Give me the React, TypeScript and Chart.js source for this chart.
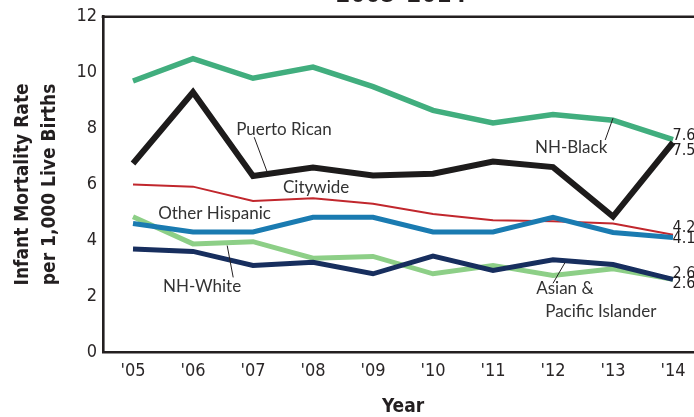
import React, { useEffect, useRef } from "react";
import { Chart, registerables } from "chart.js";

Chart.register(...registerables);

const years = ["'05", "'06", "'07", "'08", "'09", "'10", "'11", "'12", "'13", "'14"];
const nhBlack = [9.7, 10.5, 9.8, 10.2, 9.5, 8.65, 8.2, 8.5, 8.3, 7.6];
const puertoRican = [6.75, 9.3, 6.3, 6.6, 6.32, 6.38, 6.82, 6.62, 4.85, 7.5];
const citywide = [6.0, 5.92, 5.41, 5.5, 5.31, 4.94, 4.72, 4.68, 4.6, 4.2];
const otherHispanic = [4.6, 4.3, 4.3, 4.82, 4.82, 4.3, 4.3, 4.82, 4.28, 4.1];
const asianPI = [4.84, 3.87, 3.95, 3.36, 3.42, 2.8, 3.1, 2.74, 2.98, 2.6];
const nhWhite = [3.69, 3.6, 3.1, 3.21, 2.8, 3.43, 2.92, 3.3, 3.13, 2.6];
const yTicks = [0, 2, 4, 6, 8, 10, 12];

// annotation labels in data units: [text, categoryIndex, value]
const seriesLabels: [string, number, number][] = [
  ["Puerto Rican", 1.72, 7.98],
  ["Citywide", 2.5, 5.88],
  ["Other Hispanic", 0.42, 4.96],
  ["NH-White", 0.5, 2.35],
  ["NH-Black", 6.7, 7.31],
  ["Asian &", 6.72, 2.28],
  ["Pacific Islander", 6.87, 1.46],
];
// leader lines: [x1, y1, x2, y2] in data units
const leaders: [number, number, number, number][] = [
  [2.02, 7.69, 2.23, 6.48],
  [1.57, 3.81, 1.67, 2.67],
  [8.0, 8.37, 7.87, 7.59],
  [7.2, 3.2, 7.0, 2.46],
];
// end-value labels: [text, valuePosition]
const endLabels: [string, number][] = [
  ["7.6", 7.75],
  ["7.5", 7.2],
  ["4.2", 4.46],
  ["4.1", 4.04],
  ["2.6", 2.8],
  ["2.6", 2.44],
];
const titleText = "2005\u20132014";

const NARROW = "'Liberation Sans Narrow', 'DejaVu Sans Condensed', 'Arial Narrow', sans-serif";
const LABEL = "Lato, 'Open Sans', sans-serif";

export default function App() {
  const ref = useRef<HTMLCanvasElement>(null);
  useEffect(() => {
    const canvas = ref.current!;
    const annotate = {
      id: "annotate",
      afterDatasetsDraw(chart: any) {
        const { ctx, chartArea, scales } = chart;
        const xs = scales.x;
        const ys = scales.y;
        ctx.save();
        // top frame line
        ctx.strokeStyle = "#231f20";
        ctx.lineWidth = 2.6;
        ctx.beginPath();
        ctx.moveTo(chartArea.left - 1.3, chartArea.top);
        ctx.lineTo(chartArea.right + 10, chartArea.top);
        ctx.stroke();
        // leaders
        ctx.lineWidth = 1;
        ctx.strokeStyle = "#231f20";
        leaders.forEach(([a, b, c, d]) => {
          ctx.beginPath();
          ctx.moveTo(xs.getPixelForValue(a), ys.getPixelForValue(b));
          ctx.lineTo(xs.getPixelForValue(c), ys.getPixelForValue(d));
          ctx.stroke();
        });
        ctx.fillStyle = "#333";
        ctx.textBaseline = "middle";
        ctx.textAlign = "left";
        ctx.font = `17px ${LABEL}`;
        seriesLabels.forEach(([t, a, b]) => {
          ctx.fillText(t, xs.getPixelForValue(a), ys.getPixelForValue(b));
        });
        ctx.font = `16px ${NARROW}`;
        ctx.fillStyle = "#231f20";
        endLabels.forEach(([t, v]) => {
          ctx.fillText(t, xs.getPixelForValue(9) - 0.5, ys.getPixelForValue(v));
        });
        // cut-off title
        ctx.font = `bold 24px ${NARROW}`;
        ctx.textAlign = "center";
        ctx.textBaseline = "alphabetic";
        ctx.fillStyle = "#231f20";
        ctx.fillText(titleText, 401, 2);
        ctx.restore();
      },
    };
    const mk = (label: string, data: number[], color: string, width: number) => ({
      label,
      data,
      borderColor: color,
      backgroundColor: color,
      borderWidth: width,
      pointRadius: 0,
      tension: 0,
      fill: false,
      borderJoinStyle: "miter" as const,
    });
    const chart = new Chart(canvas, {
      type: "line",
      data: {
        labels: years,
        datasets: [
          mk("Puerto Rican", puertoRican, "#1d1b1b", 6),
          mk("Other Hispanic", otherHispanic, "#1a7bb1", 5),
          mk("NH-White", nhWhite, "#172e5e", 5),
          mk("Asian & Pacific Islander", asianPI, "#8dcf87", 5),
          mk("Citywide", citywide, "#c1272d", 2),
          mk("NH-Black", nhBlack, "#41ae7e", 5.5),
        ],
      },
      options: {
        responsive: false,
        animation: false,
        devicePixelRatio: 1,
        layout: { padding: { top: 15, right: 7, left: 0, bottom: 0 } },
        plugins: { legend: { display: false }, tooltip: { enabled: false }, title: { display: false } },
        scales: {
          x: {
            type: "category",
            offset: true,
            grid: { display: false, drawTicks: false },
            border: { display: true, color: "#231f20", width: 2.6 },
            ticks: { color: "#2a2627", font: { family: NARROW, size: 18 }, padding: 9, maxRotation: 0 },
            title: {
              display: true,
              text: "Year",
              color: "#231f20",
              font: { family: NARROW, size: 19, weight: "bold", lineHeight: 1 },
              padding: { top: 0, bottom: 0 },
            },
            afterFit: (s: any) => {
              s.height = 65;
            },
          },
          y: {
            min: 0,
            max: 12,
            afterBuildTicks: (s: any) => {
              s.ticks = yTicks.map((v) => ({ value: v }));
            },
            grid: { display: false, drawTicks: false },
            border: { display: true, color: "#231f20", width: 2.6 },
            ticks: { color: "#2a2627", font: { family: NARROW, size: 18 }, padding: 6 },
            title: {
              display: true,
              text: ["Infant Mortality Rate", "per 1,000 Live Births"],
              color: "#231f20",
              font: { family: NARROW, size: 19, weight: "bold", lineHeight: 1.45 },
              padding: { top: 9, bottom: 0 },
            },
            afterFit: (s: any) => {
              s.width = 103;
            },
          },
        },
      },
      plugins: [annotate],
    });
    return () => chart.destroy();
  }, []);
  return (
    <div style={{ position: "fixed", left: 0, top: 0, width: 694, height: 417, overflow: "hidden", background: "#fff" }}>
      <canvas ref={ref} width={710} height={417} style={{ width: 710, height: 417, display: "block" }} />
    </div>
  );
}
